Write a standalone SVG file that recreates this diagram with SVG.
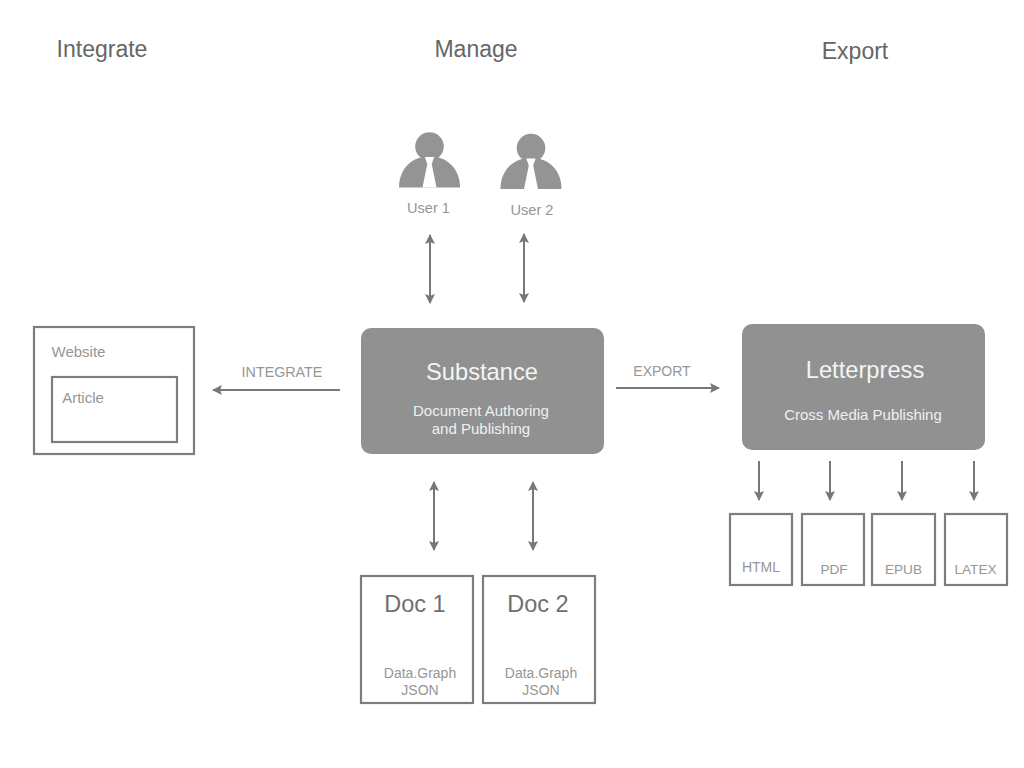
<svg xmlns="http://www.w3.org/2000/svg" width="1024" height="768" viewBox="0 0 1024 768">
<defs>
<marker id="a" viewBox="0 0 10 10" refX="9" refY="5" markerWidth="10" markerHeight="10" markerUnits="userSpaceOnUse" orient="auto-start-reverse"><path d="M0 0L10 5L0 10L2 5Z" fill="#777"/></marker>
<g id="person"><path d="M-30.500 55.500C-30.500 36-17 24.500 0 24C17 24.500 30.500 36 30.500 55.500Z" fill="#949494"/><circle cx="0" cy="14.500" r="14.300" fill="#949494"/><path d="M-4.700 25L4.700 25L2.200 32L7 55.500L-7 55.500L-2.200 32Z" fill="#fff"/></g>
</defs>
<style>
text{font-family:"Liberation Sans",Arial,sans-serif;fill:#969696;font-size:14px;text-anchor:middle;font-weight:400}
.h{font-size:23px;fill:#666}
.w{fill:#f0f0f0;font-size:15px}
.t{font-size:23.700px;fill:#f4f4f4}
.d{font-size:23.500px;fill:#707070}
.u{font-size:14.600px}
.s{font-size:15px}
.n{font-size:13.600px}
.box{fill:none;stroke:#7d7d7d;stroke-width:2.200}
.solid{fill:#919191}
.c line{stroke:#777;stroke-width:2;marker-end:url(#a)}
.c line.b{marker-start:url(#a)}
</style>
<g id="headers"><text class="h" x="102" y="57">Integrate</text><text class="h" x="476" y="57">Manage</text><text class="h" x="855" y="59">Export</text></g>
<g id="user1"><use href="#person" x="429.500" y="132"/><text class="u" x="428.500" y="213">User 1</text></g>
<g id="user2"><use href="#person" x="531" y="133.500"/><text class="u" x="532" y="215">User 2</text></g>
<g id="website"><rect class="box" x="34" y="327" width="160" height="127"/><text class="s" x="78.500" y="357">Website</text></g>
<g id="article"><rect class="box" x="52" y="377" width="125" height="65"/><text class="s" x="83" y="403">Article</text></g>
<g id="substance"><rect class="solid" x="361" y="328" width="243" height="126" rx="10"/><text class="t" x="482" y="380">Substance</text><text class="w" x="481" y="416">Document Authoring</text><text class="w" x="481" y="434">and Publishing</text></g>
<g id="letterpress"><rect class="solid" x="742" y="324" width="243" height="126" rx="10"/><text class="t" x="865" y="378">Letterpress</text><text class="w" x="863" y="420">Cross Media Publishing</text></g>
<g id="doc1"><rect class="box" x="361" y="576" width="112" height="127"/><text class="d" x="415" y="612">Doc 1</text><text x="420" y="678">Data.Graph</text><text x="420" y="695">JSON</text></g>
<g id="doc2"><rect class="box" x="483" y="576" width="112" height="127"/><text class="d" x="538" y="612">Doc 2</text><text x="541" y="678">Data.Graph</text><text x="541" y="695">JSON</text></g>
<g id="html"><rect class="box" x="730" y="514" width="62" height="71"/><text x="761" y="572">HTML</text></g>
<g id="pdf"><rect class="box" x="802" y="514" width="62" height="71"/><text class="n" x="834" y="573.500">PDF</text></g>
<g id="epub"><rect class="box" x="872" y="514" width="63" height="71"/><text class="n" x="903.500" y="573.500">EPUB</text></g>
<g id="latex"><rect class="box" x="945" y="514" width="62" height="71"/><text class="n" x="975.500" y="573.500">LATEX</text></g>
<g id="connector-labels"><text x="282" y="377" style="font-size:14.300px">INTEGRATE</text><text x="662" y="376">EXPORT</text></g>
<g id="connectors" class="c">
<line class="b" x1="430" y1="235" x2="430" y2="303"/>
<line class="b" x1="524" y1="234" x2="524" y2="302"/>
<line class="b" x1="434" y1="482" x2="434" y2="550"/>
<line class="b" x1="533" y1="482" x2="533" y2="550"/>
<line x1="340" y1="390" x2="213" y2="390"/>
<line x1="616" y1="388" x2="719" y2="388"/>
<line x1="759" y1="461" x2="759" y2="500"/>
<line x1="830" y1="461" x2="830" y2="500"/>
<line x1="902" y1="461" x2="902" y2="500"/>
<line x1="974" y1="461" x2="974" y2="500"/>
</g>
</svg>
